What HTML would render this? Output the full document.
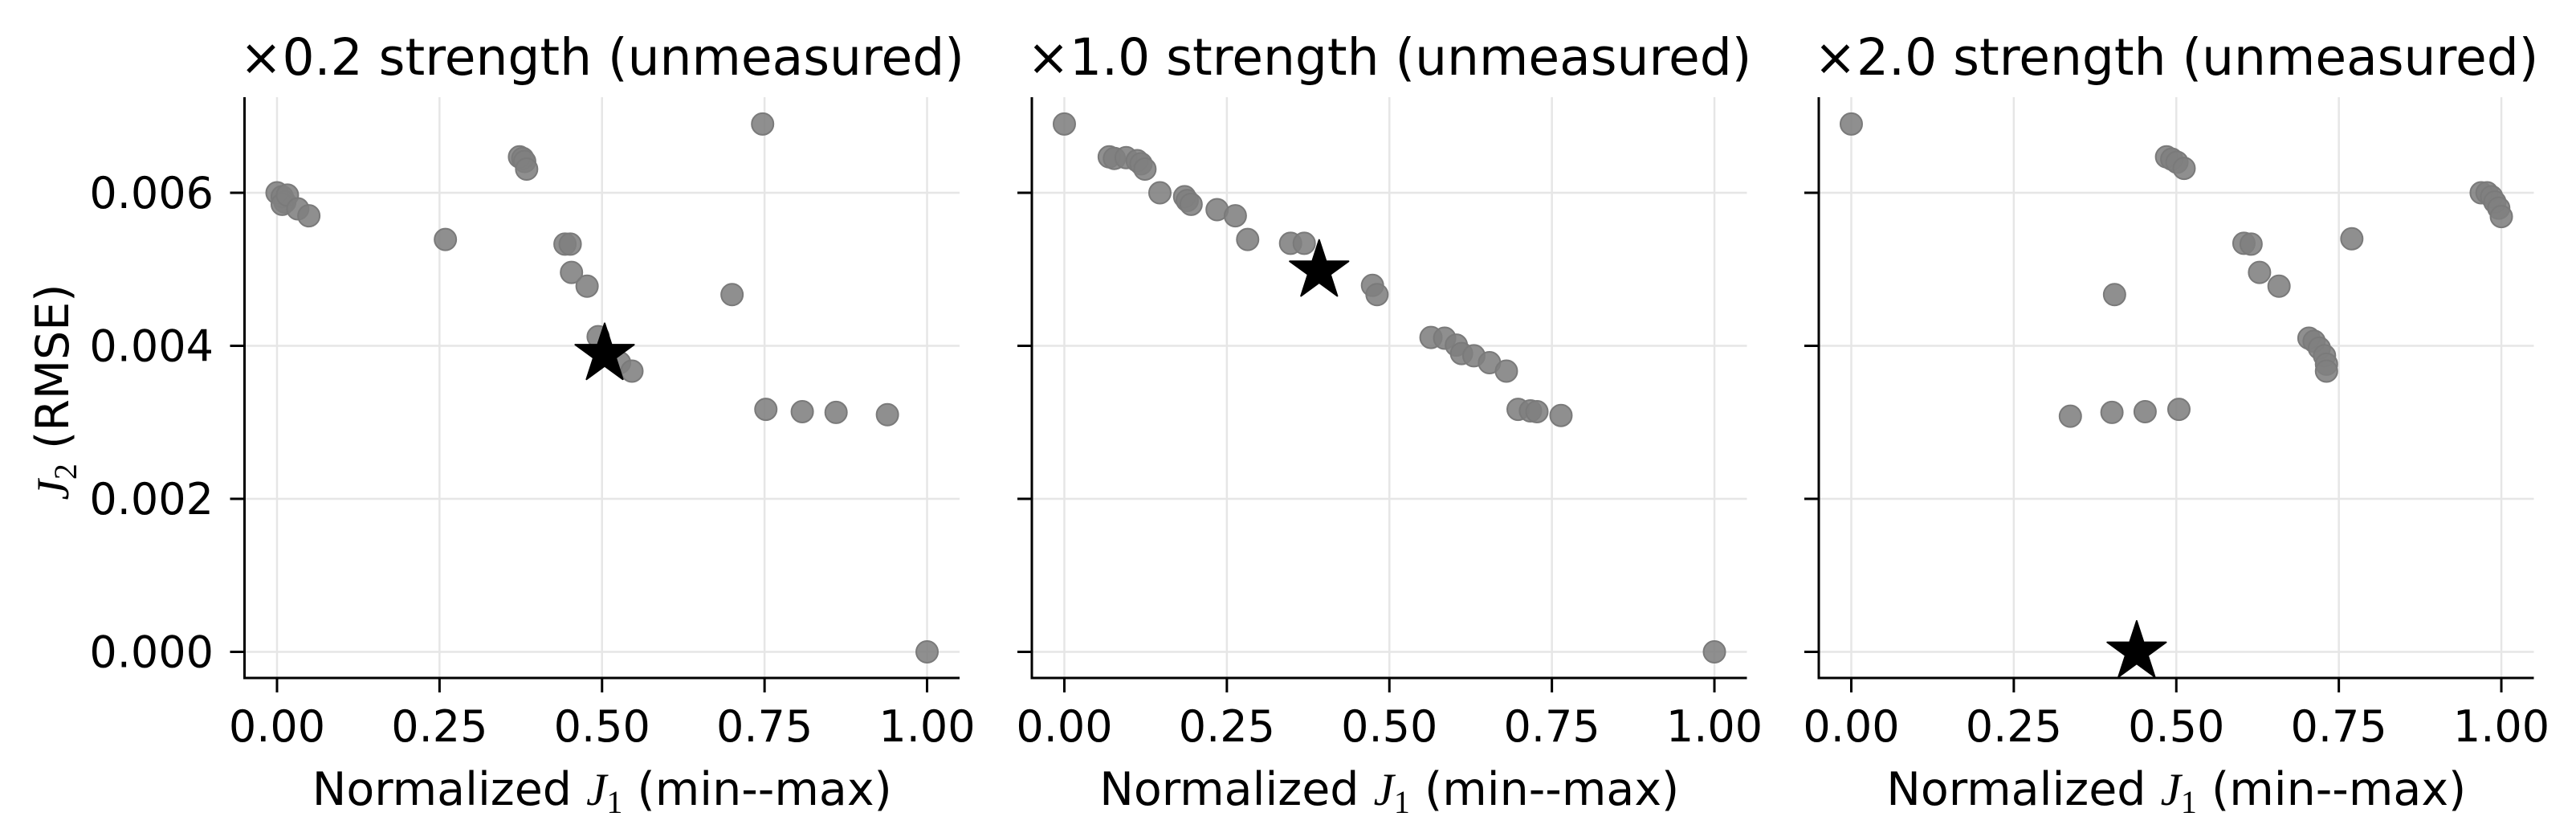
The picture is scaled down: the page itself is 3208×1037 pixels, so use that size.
<!DOCTYPE html>
<html><head><meta charset="utf-8"><style>
html,body{margin:0;padding:0;background:#fff;}
svg{display:block;font-family:"DejaVu Sans","Liberation Sans",sans-serif;}
</style></head><body>
<svg id="fig" width="3208" height="1037" viewBox="0 0 3208 1037" xmlns="http://www.w3.org/2000/svg"></svg>
<script>
const panelTitles = ["×0.2 strength (unmeasured)", "×1.0 strength (unmeasured)", "×2.0 strength (unmeasured)"];
const xTicks = [0, 0.25, 0.5, 0.75, 1.0];
const xTickLabels = ["0.00", "0.25", "0.50", "0.75", "1.00"];
const yTicks = [0, 0.002, 0.004, 0.006];
const yTickLabels = ["0.000", "0.002", "0.004", "0.006"];

const p1x = [0,0.008,0.012,0.008,0.016,0.032,0.049,0.259,0.373,0.378,0.381,0.384,0.443,0.451,0.453,0.477,0.747,0.7,0.494,0.527,0.546,0.752,0.808,0.86,0.939,1.0];
const p1y = [0.006,0.00595,0.00588,0.00585,0.00597,0.00579,0.0057,0.00539,0.00647,0.00645,0.00641,0.00631,0.00533,0.00533,0.00496,0.00478,0.0069,0.00467,0.00412,0.00378,0.00367,0.00317,0.00314,0.00313,0.0031,0.0];
const p2x = [0,0.069,0.077,0.095,0.112,0.118,0.124,0.147,0.185,0.189,0.195,0.235,0.263,0.282,0.348,0.369,0.474,0.481,0.564,0.585,0.603,0.611,0.63,0.654,0.68,0.698,0.717,0.727,0.764,1.0];
const p2y = [0.0069,0.00647,0.00645,0.00646,0.00642,0.00638,0.00631,0.006,0.00595,0.0059,0.00585,0.00578,0.0057,0.00539,0.00534,0.00534,0.00479,0.00467,0.00411,0.0041,0.00401,0.0039,0.00387,0.00378,0.00367,0.00317,0.00315,0.00314,0.00309,0.0];
const p3x = [0,0.485,0.493,0.501,0.512,0.405,0.604,0.615,0.628,0.658,0.77,0.704,0.712,0.72,0.728,0.731,0.731,0.969,0.978,0.985,0.99,0.996,1.0,0.337,0.401,0.452,0.504];
const p3y = [0.0069,0.00647,0.00644,0.0064,0.00632,0.00467,0.00534,0.00533,0.00496,0.00478,0.0054,0.0041,0.00406,0.00397,0.00387,0.00376,0.00367,0.006,0.006,0.00595,0.00588,0.0058,0.00569,0.00308,0.00313,0.00314,0.00317];
const starX = [0.504, 0.392, 0.439];
const starY = [0.00389, 0.00498, 0.0];

const seriesX = [p1x, p2x, p3x];
const seriesY = [p1y, p2y, p3y];

const NS = "http://www.w3.org/2000/svg";
const svg = document.getElementById("fig");
const axLeft = [304.5, 1285, 2265];
const axW = 890.5;
const axTop = 121, axBottom = 844;
const xmin = -0.05, xmax = 1.05, ymin = -0.000341, ymax = 0.00725;

function mk(tag, attrs, parent) {
  const e = document.createElementNS(NS, tag);
  for (const k in attrs) e.setAttribute(k, attrs[k]);
  (parent || svg).appendChild(e);
  return e;
}
function xScale(i, v) { return axLeft[i] + (v - xmin) / (xmax - xmin) * axW; }
function yScale(v) { return axBottom - (v - ymin) / (ymax - ymin) * (axBottom - axTop); }

for (let i = 0; i < 3; i++) {
  const g = mk("g", {});
  
  
  xTicks.forEach((t) => {
    const x = xScale(i, t);
    const l = mk("line", {x1: x, x2: x, y1: axTop, y2: axBottom, stroke: "#e6e6e6", "stroke-width": 2.5}, g);
    
    
  });
  yTicks.forEach((t) => {
    const y = yScale(t);
    const l = mk("line", {x1: axLeft[i], x2: axLeft[i] + axW, y1: y, y2: y, stroke: "#e6e6e6", "stroke-width": 2.5}, g);
    
    
  });
  const xs = seriesX[i], ys = seriesY[i];
  for (let k = 0; k < xs.length; k++) {
    const c = mk("circle", {cx: xScale(i, xs[k]), cy: yScale(ys[k]), r: 13.5, fill: "#808080", "fill-opacity": 0.88, stroke: "#7a7a7a", "stroke-width": 2}, g);
    
    
  }
  const cx = xScale(i, starX[i]), cy = yScale(starY[i]), R = 38.5, r2 = R * 0.382;
  let pts = [];
  for (let k = 0; k < 10; k++) {
    const a = -Math.PI / 2 + k * Math.PI / 5;
    const rr = k % 2 === 0 ? R : r2;
    pts.push((cx + rr * Math.cos(a)).toFixed(1) + "," + (cy + rr * Math.sin(a)).toFixed(1));
  }
  const st = mk("polygon", {points: pts.join(" "), fill: "#000", stroke: "#000", "stroke-width": 2, "stroke-linejoin": "round"}, g);
  
  
  const sl = mk("line", {x1: axLeft[i], x2: axLeft[i], y1: axTop, y2: axBottom + 1.5, stroke: "#000", "stroke-width": 3}, g);
  
  
  const sb = mk("line", {x1: axLeft[i] - 1.5, x2: axLeft[i] + axW, y1: axBottom, y2: axBottom, stroke: "#000", "stroke-width": 3}, g);
  
  
  xTicks.forEach((t, j) => {
    const x = xScale(i, t);
    const tk = mk("line", {x1: x, x2: x, y1: axBottom, y2: axBottom + 18, stroke: "#000", "stroke-width": 3}, g);
    
    
    const tx = mk("text", {x: x, y: 923, "font-size": 54, "text-anchor": "middle", fill: "#000"}, g);
    tx.textContent = xTickLabels[j];
    
    
  });
  yTicks.forEach((t, j) => {
    const y = yScale(t);
    const tk = mk("line", {x1: axLeft[i] - 18, x2: axLeft[i], y1: y, y2: y, stroke: "#000", "stroke-width": 3}, g);
    
    
    if (i === 0) {
      const tx = mk("text", {x: 266, y: y + 19, "font-size": 54, "text-anchor": "end", fill: "#000"}, g);
      tx.textContent = yTickLabels[j];
      
      
    }
  });
  const ti = mk("text", {x: axLeft[i] + axW / 2, y: 93, "font-size": 63, "text-anchor": "middle", fill: "#000"}, g);
  ti.textContent = panelTitles[i];
  
  
  const xl = mk("text", {x: axLeft[i] + axW / 2, y: 1002, "font-size": 57, "text-anchor": "middle", fill: "#000"}, g);
  xl.innerHTML = 'Normalized <tspan font-family="Liberation Serif, DejaVu Serif, serif" font-style="italic">J</tspan><tspan font-family="Liberation Serif, serif" font-size="40" dy="10">1</tspan><tspan dy="-10"> (min--max)</tspan>';
  
  
}
const yl = mk("text", {x: 0, y: 0, "font-size": 57, "text-anchor": "middle", fill: "#000", transform: "translate(85,488) rotate(-90)"});
yl.innerHTML = '<tspan font-family="Liberation Serif, DejaVu Serif, serif" font-style="italic">J</tspan><tspan font-family="Liberation Serif, serif" font-size="40" dy="10">2</tspan><tspan dy="-10"> (RMSE)</tspan>';


</script>
</body></html>
